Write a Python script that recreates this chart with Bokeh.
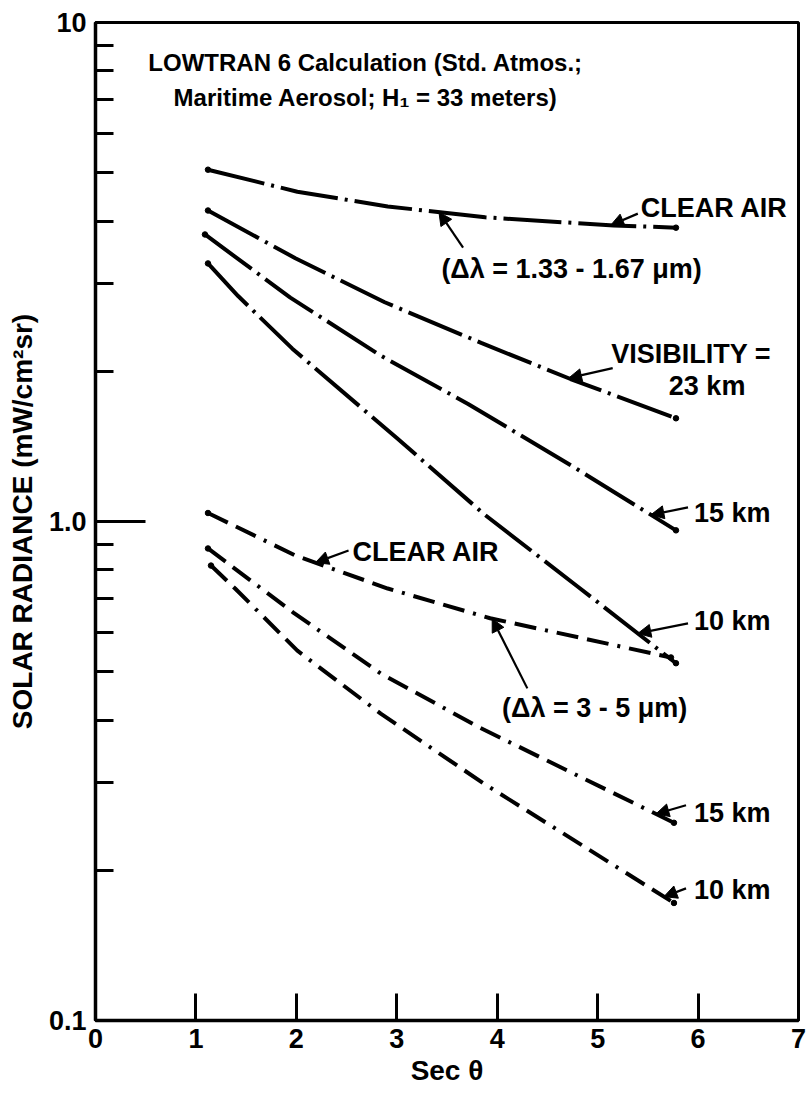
import numpy as np
from bokeh.plotting import figure
from bokeh.models import FixedTicker, Arrow, NormalHead, Range1d
from bokeh.embed import file_html
from bokeh.resources import INLINE
from bokeh.core.properties import value

# ---------------- data ----------------
# Delta lambda = 1.33 - 1.67 um
swir_clear_x = [1.12, 2.01, 2.91, 3.88, 5.16, 5.78]
swir_clear_y = [5.07, 4.58, 4.28, 4.07, 3.92, 3.88]
swir_vis23_x = [1.12, 1.99, 2.88, 3.84, 4.73, 5.78]
swir_vis23_y = [4.20, 3.37, 2.75, 2.28, 1.93, 1.61]
swir_vis15_x = [1.09, 1.94, 2.84, 3.71, 4.75, 5.78]
swir_vis15_y = [3.76, 2.81, 2.15, 1.72, 1.29, 0.96]
swir_vis10_x = [1.12, 1.42, 1.96, 3.00, 3.88, 4.80, 5.78]
swir_vis10_y = [3.29, 2.83, 2.22, 1.47, 1.03, 0.741, 0.52]
# Delta lambda = 3 - 5 um
mwir_clear_x = [1.12, 1.99, 2.91, 3.93, 5.73]
mwir_clear_y = [1.04, 0.855, 0.734, 0.640, 0.534]
mwir_vis15_x = [1.12, 1.97, 2.84, 3.83, 5.76]
mwir_vis15_y = [0.883, 0.657, 0.496, 0.386, 0.249]
mwir_vis10_x = [1.15, 1.39, 2.01, 2.84, 3.86, 5.76]
mwir_vis10_y = [0.816, 0.734, 0.551, 0.412, 0.299, 0.172]

x_ticks = [0, 1, 2, 3, 4, 5, 6, 7]
y_ticks = [0.1, 1.0, 10.0]
y_minor = [0.2, 0.3, 0.4, 0.5, 0.6, 0.7, 0.8, 0.9, 2, 3, 4, 5, 6, 7, 8, 9]
y_tick_labels = {0.1: "0.1", 1.0: "1.0", 10.0: "10"}

title_lines = ["LOWTRAN 6 Calculation (Std. Atmos.;", "Maritime Aerosol; H\u2081 = 33 meters)"]
x_label = "Sec \u03b8"
y_label = "SOLAR RADIANCE (mW/cm\u00b2sr)"

# ---------------- styling / layout ----------------
FONT = value("Liberation Sans")
FS = "27px"
TITLE_FS = "24px"
SWIR_DASH = "58 7 3 7"
MWIR_DASH = "22 9 22 9 3 9"
LW = 4

p = figure(frame_width=703, frame_height=998,
           x_range=Range1d(0, 7), y_range=Range1d(0.1, 10),
           y_axis_type="log", output_backend="svg", toolbar_location=None,
           min_border_left=95, min_border_right=10, min_border_top=22,
           min_border_bottom=74, background_fill_color="white",
           border_fill_color="white")
p.grid.visible = False
p.outline_line_color = "black"
p.outline_line_width = 3
p.outline_line_alpha = 1.0

for ax in (p.xaxis[0], p.yaxis[0]):
    ax.axis_line_width = 3.5
    ax.major_tick_line_width = 3
    ax.minor_tick_line_width = 3
    ax.major_tick_out = 0
    ax.minor_tick_out = 0
    ax.major_label_text_font = "Liberation Sans"
    ax.major_label_text_font_style = "bold"
    ax.major_label_text_font_size = "27px"
    ax.major_label_text_color = "black"
    ax.axis_label_text_font = "Liberation Sans"
    ax.axis_label_text_font_style = "bold"
    ax.axis_label_text_font_size = "28px"
    ax.axis_label_text_color = "black"

p.xaxis.ticker = FixedTicker(ticks=x_ticks)
p.xaxis.major_tick_in = 27
p.xaxis.minor_tick_line_color = None
p.xaxis.major_label_standoff = 8
p.xaxis.axis_label = x_label
p.xaxis.axis_label_standoff = 4

p.yaxis.ticker = FixedTicker(ticks=y_ticks, minor_ticks=y_minor)
p.yaxis.major_label_overrides = y_tick_labels
p.yaxis.major_tick_in = 50
p.yaxis.minor_tick_in = 18
p.yaxis.major_label_standoff = 9
p.yaxis.axis_label = y_label
p.yaxis.axis_label_standoff = 8

curves = [
    (swir_clear_x, swir_clear_y, SWIR_DASH),
    (swir_vis23_x, swir_vis23_y, SWIR_DASH),
    (swir_vis15_x, swir_vis15_y, SWIR_DASH),
    (swir_vis10_x, swir_vis10_y, SWIR_DASH),
    (mwir_clear_x, mwir_clear_y, MWIR_DASH),
    (mwir_vis15_x, mwir_vis15_y, MWIR_DASH),
    (mwir_vis10_x, mwir_vis10_y, MWIR_DASH),
]
for xs, ys, dash in curves:
    p.line(xs, ys, line_color="black", line_width=LW, line_dash=dash)
    p.scatter([xs[0], xs[-1]], [ys[0], ys[-1]], size=5.5, color="black")


def on_curve(xs, ys, x):
    return float(10 ** np.interp(x, xs, np.log10(ys)))


# title (inside frame)
p.text(x=[2.69, 2.69], y=[8.32, 7.07], text=title_lines, text_font=FONT,
       text_font_style="bold", text_font_size=TITLE_FS, text_align="center",
       text_baseline="middle", text_color="black")

# annotation labels: (x, y, text, align)
labels = [
    (5.43, 4.24, "CLEAR AIR", "left"),
    (4.74, 3.21, "(\u0394\u03bb = 1.33 - 1.67 \u03bcm)", "center"),
    (5.93, 2.17, "VISIBILITY =", "center"),
    (6.09, 1.87, "23 km", "center"),
    (5.96, 1.04, "15 km", "left"),
    (5.96, 0.633, "10 km", "left"),
    (2.56, 0.867, "CLEAR AIR", "left"),
    (4.97, 0.422, "(\u0394\u03bb = 3 - 5 \u03bcm)", "center"),
    (5.96, 0.260, "15 km", "left"),
    (5.96, 0.183, "10 km", "left"),
]
for lx, ly, lt, la in labels:
    p.text(x=[lx], y=[ly], text=[lt], text_font=FONT, text_font_style="bold",
           text_font_size=FS, text_align=la, text_baseline="middle",
           text_color="black")

# arrows: start point, and tip x on a curve
arrows = [
    (5.40, 4.14, 5.13, swir_clear_x, swir_clear_y),
    (3.66, 3.54, 3.42, swir_clear_x, swir_clear_y),
    (5.15, 2.03, 4.71, swir_vis23_x, swir_vis23_y),
    (5.90, 1.067, 5.53, swir_vis15_x, swir_vis15_y),
    (5.90, 0.625, 5.40, swir_vis10_x, swir_vis10_y),
    (2.52, 0.875, 2.19, mwir_clear_x, mwir_clear_y),
    (4.30, 0.463, 3.95, mwir_clear_x, mwir_clear_y),
    (5.88, 0.270, 5.58, mwir_vis15_x, mwir_vis15_y),
    (5.88, 0.184, 5.66, mwir_vis10_x, mwir_vis10_y),
]
for sx, sy, tx, cx, cy in arrows:
    p.add_layout(Arrow(end=NormalHead(size=13, fill_color="black", line_color="black",
                                      line_width=1),
                       x_start=sx, y_start=sy, x_end=tx, y_end=on_curve(cx, cy, tx),
                       line_width=2.2, line_color="black"))

open("out.html", "w").write(file_html(p, INLINE))
